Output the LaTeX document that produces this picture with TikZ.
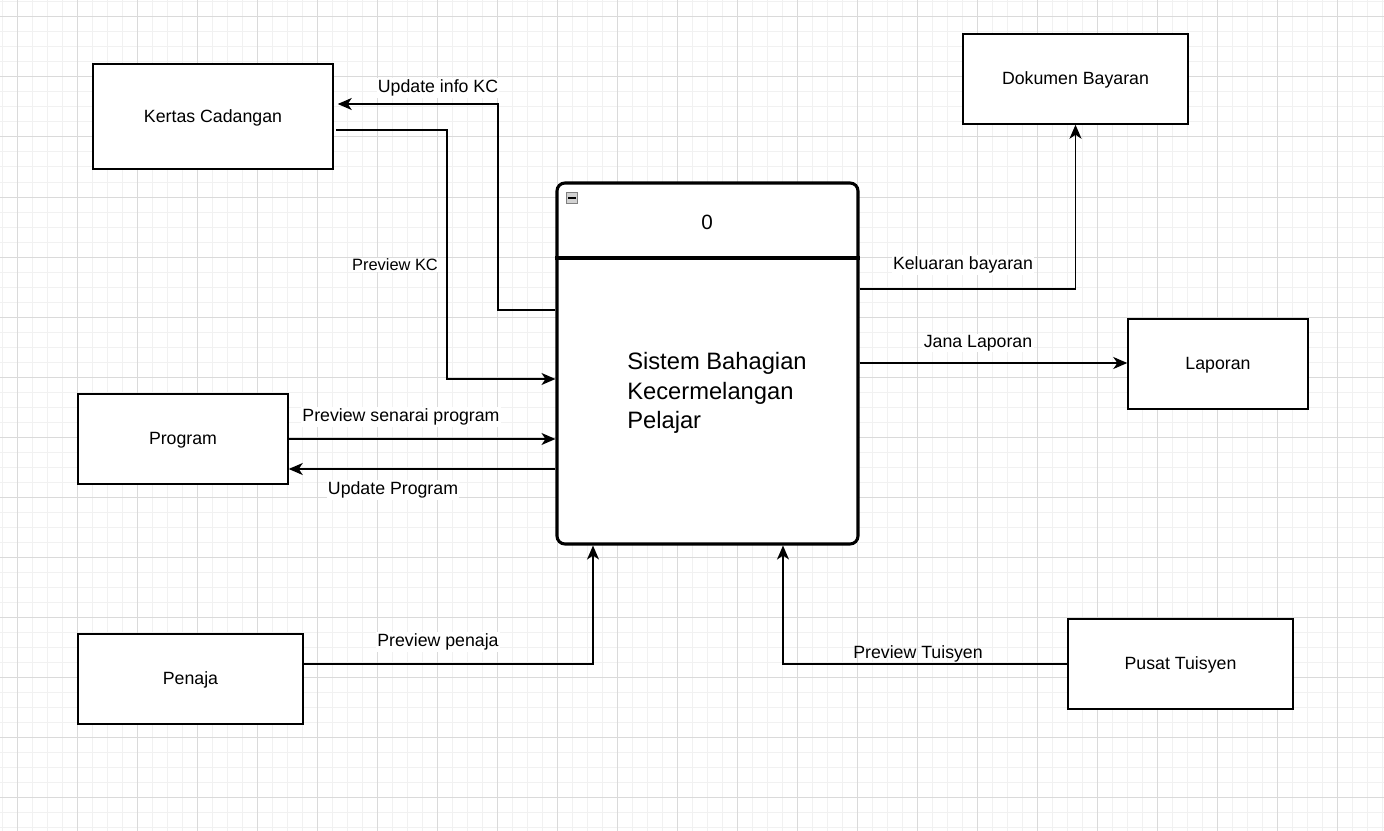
\documentclass[tikz,border=0pt]{standalone}
\usepackage{fontspec}
\setmainfont{Liberation Sans}
\usetikzlibrary{arrows.meta}
\definecolor{majgrid}{HTML}{DADADA}
\definecolor{mingrid}{HTML}{F1F1F1}
\begin{document}
\begin{tikzpicture}[x=0.75pt,y=-0.75pt,
  ebox/.style={draw=black,line width=1.1pt,fill=white,inner sep=0pt,font=\fontsize{13.3}{16}\selectfont},
  procbox/.style={draw=black,line width=2.3pt,fill=white,rounded corners=6pt,inner sep=0pt,minimum width=225.75pt,minimum height=270.75pt},
  flow/.style={draw=black,line width=1.1pt,-{Stealth[length=10.5pt,width=9pt,inset=3pt]}},
  lbl/.style={fill=white,inner sep=1pt,font=\fontsize{13.3}{16}\selectfont},
  slbl/.style={fill=white,inner sep=1pt,font=\fontsize{12.3}{15}\selectfont}]
\fill[white] (0,0) rectangle (1384,831);
\useasboundingbox (0,0) rectangle (1384,831);
% grid
\foreach \g in {2,17,...,1382} \draw[mingrid,line width=0.75pt] (\g,0) -- (\g,831);
\foreach \g in {2,17,...,830} \draw[mingrid,line width=0.75pt] (0,\g) -- (1384,\g);
\foreach \g in {17,77,...,1382} \draw[majgrid,line width=0.75pt] (\g,0) -- (\g,831);
\foreach \g in {17,77,...,830} \draw[majgrid,line width=0.75pt] (0,\g) -- (1384,\g);
% entities
\node[ebox,minimum width=180pt,minimum height=78.75pt] (kc) at (213,116.5) {};
\node[ebox,minimum width=168.75pt,minimum height=67.5pt] (dok) at (1075.5,79) {};
\node[ebox,minimum width=135pt,minimum height=67.5pt] (lap) at (1218,364) {};
\node[ebox,minimum width=157.5pt,minimum height=67.5pt] (prog) at (183,439) {};
\node[ebox,minimum width=168.75pt,minimum height=67.5pt] (pen) at (190.5,679) {};
\node[ebox,minimum width=168.75pt,minimum height=67.5pt] (pt) at (1180.5,664) {};
\node[font=\fontsize{13.3}{16}\selectfont] (kct) at ([yshift=-0.9pt]kc.center) {Kertas Cadangan};
\node[font=\fontsize{13.3}{16}\selectfont] (dokt) at ([yshift=-0.9pt]dok.center) {Dokumen Bayaran};
\node[font=\fontsize{13.3}{16}\selectfont] (lapt) at ([yshift=-0.9pt]lap.center) {Laporan};
\node[font=\fontsize{13.3}{16}\selectfont] (progt) at ([yshift=-0.9pt]prog.center) {Program};
\node[font=\fontsize{13.3}{16}\selectfont] (pent) at ([yshift=-0.9pt]pen.center) {Penaja};
\node[font=\fontsize{13.3}{16}\selectfont] (ptt) at ([yshift=-0.9pt]pt.center) {Pusat Tuisyen};
% process
\node[procbox] (proc) at (707.5,363.5) {};
\draw[line width=2.3pt] (proc.west |- 0,258) -- (proc.east |- 0,258);
\node[font=\fontsize{15.5}{18}\selectfont,inner sep=0pt] (pnum) at (707,222) {0};
\node[font=\fontsize{17.8}{22.1}\selectfont,align=left,anchor=west,inner sep=0pt] (pname) at (627,393) {Sistem Bahagian\\Kecermelangan\\Pelajar};
\node[draw=gray,fill=gray!35,line width=0.6pt,minimum size=8.5pt,inner sep=0pt] (icon) at (572,198) {};
\draw[line width=1pt] ([xshift=1.8pt]icon.west) -- ([xshift=-1.8pt]icon.east);
% connectors
\draw[flow] (proc.west |- 0,310) -| (498,104) -- ([xshift=3pt]kc.east |- 0,104);
\draw[flow] ([xshift=2pt]kc.east |- 0,130) -| (447,379) -- (proc.west |- 0,379);
\draw[flow] (prog.east |- 0,439) -- (proc.west |- 0,439);
\draw[flow] (proc.west |- 0,469) -- (prog.east |- 0,469);
\draw[flow] (pen.east |- 0,664) -| (proc.south -| 593,0);
\draw[flow] (pt.west) -| (proc.south -| 783,0);
\draw[flow] (proc.east |- 0,289) -| (dok.south);
\draw[flow] (proc.east |- 0,363) -- (lap.west |- 0,363);
% labels
\node[lbl] (l1) at (438,88) {Update info KC};
\node[slbl] (l2) at (395,265) {Preview KC};
\node[lbl] (l3) at (401,417) {Preview senarai program};
\node[lbl] (l4) at (393,490) {Update Program};
\node[lbl] (l5) at (438,642) {Preview penaja};
\node[lbl,fill=none] (l6) at (918,654) {Preview Tuisyen};
\node[lbl] (l7) at (963,265) {Keluaran bayaran};
\node[lbl] (l8) at (978,343) {Jana Laporan};
\end{tikzpicture}
\end{document}
